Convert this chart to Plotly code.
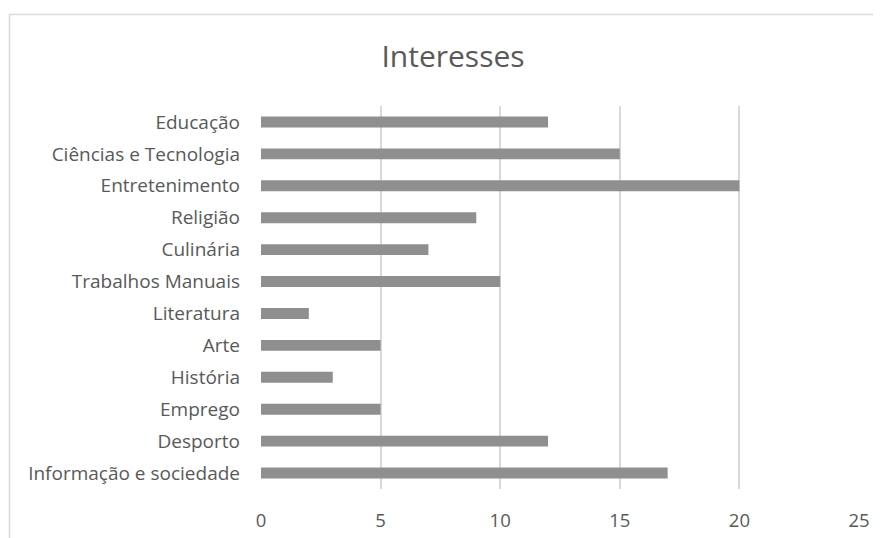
import plotly.graph_objects as go

categories = ["Educação", "Ciências e Tecnologia", "Entretenimento", "Religião", "Culinária",
              "Trabalhos Manuais", "Literatura", "Arte", "História", "Emprego", "Desporto",
              "Informação e sociedade"]
values = [12, 15, 20, 9, 7, 10, 2, 5, 3, 5, 12, 17]
x_ticks = [0, 5, 10, 15, 20, 25]

# page body adds an 8px margin, so the figure is drawn 8px smaller and offset
OFF = 8
W, H = 881 - OFF, 538 - OFF
L, R, T, B = 261 - OFF, 22, 106 - OFF, 49
pw, ph = W - L - R, H - T - B

def px_x(p):
    return (p - OFF - L) / pw

def px_y(p):
    return (H - B - (p - OFF)) / ph

fig = go.Figure(go.Bar(
    x=values, y=categories, orientation="h",
    marker=dict(color="#8f8f8f", line=dict(width=0)),
))

fig.update_layout(
    width=W, height=H,
    margin=dict(l=L, r=R, t=T, b=B),
    paper_bgcolor="white", plot_bgcolor="white",
    bargap=0.66,
    showlegend=False,
    font=dict(family="'Open Sans', sans-serif", color="#595959"),
    title=dict(text="Interesses", x=(453 - OFF) / W, xanchor="center", y=1 - (56 - OFF) / H,
               yanchor="middle", font=dict(size=30, color="#595959")),
    xaxis=dict(range=[0, 25], tickvals=x_ticks, showgrid=True, gridcolor="#d9d9d9", gridwidth=1.5,
               zeroline=False, showline=False, ticks="", tickfont=dict(size=18.5, color="#595959"),
               ticklabelstandoff=18, automargin=False),
    yaxis=dict(categoryorder="array", categoryarray=categories[::-1], autorange=False,
               range=[-0.5, len(categories) - 0.5],
               showgrid=False, zeroline=False, showline=False, ticks="",
               tickfont=dict(size=19, color="#595959"), ticklabelstandoff=20, automargin=False),
    shapes=[dict(type="rect", xref="paper", yref="paper",
                 x0=px_x(9.5), x1=px_x(881 + 20), y0=px_y(538 + 20), y1=px_y(14.5),
                 line=dict(color="#d9d9d9", width=1.5), fillcolor="rgba(0,0,0,0)", layer="below")],
)

fig.write_html("out.html")
